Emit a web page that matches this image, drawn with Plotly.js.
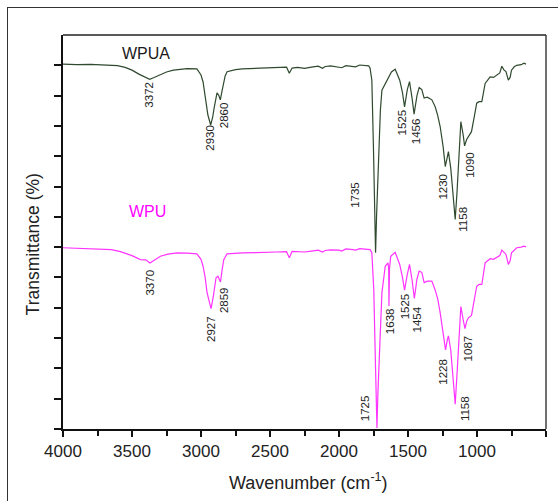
<!DOCTYPE html>
<html>
<head>
<meta charset="utf-8">
<script src="https://cdn.plot.ly/plotly-3.0.1.min.js"></script>
<style>
  html, body { margin: 0; padding: 0; background: #fff; }
  #wrap { position: relative; width: 558px; height: 501px; overflow: hidden; }
  #chart { width: 558px; height: 501px; }
  #frame { position: absolute; left: 7px; top: 7px; width: 600px; height: 600px;
           border-left: 1.3px solid #333; border-top: 1.3px solid #333; pointer-events: none; }
</style>
</head>
<body>
<div id="wrap"><div id="chart"></div><div id="frame"></div></div>
<script>
// Wavenumbers (cm-1) and offset transmittance (arbitrary units, one tick = 1)
const wpuaX = [4000, 3900, 3800, 3700, 3605, 3550, 3500, 3450, 3410, 3372, 3340, 3300, 3250, 3200, 3100, 3030, 3000, 2985, 2970, 2950, 2930, 2915, 2905, 2884, 2872, 2860, 2850, 2840, 2825, 2811, 2750, 2700, 2600, 2500, 2450, 2380, 2360, 2340, 2300, 2250, 2200, 2150, 2120, 2100, 2060, 2000, 1980, 1950, 1900, 1880, 1850, 1800, 1785, 1775, 1762, 1750, 1742, 1735, 1728, 1720, 1710, 1700, 1689, 1653, 1620, 1593, 1560, 1540, 1525, 1505, 1489, 1470, 1456, 1435, 1419, 1400, 1383, 1360, 1327, 1303, 1285, 1267, 1245, 1230, 1215, 1207, 1190, 1175, 1158, 1145, 1130, 1117, 1100, 1090, 1075, 1062, 1040, 1020, 1002, 985, 965, 941, 920, 905, 880, 857, 835, 820, 805, 790, 773, 760, 750, 730, 712, 680, 660, 645];
const wpuaY = [12.04, 12.02, 12.03, 12.0, 11.99, 11.93, 11.84, 11.71, 11.62, 11.54, 11.6, 11.68, 11.78, 11.84, 11.89, 11.88, 11.68, 11.45, 11.02, 10.36, 10.03, 10.3, 10.59, 11.09, 11.02, 10.86, 11.1, 11.35, 11.65, 11.79, 11.86, 11.88, 11.9, 11.91, 11.93, 11.94, 11.74, 11.91, 11.93, 11.9, 11.94, 11.97, 11.9, 11.96, 11.98, 11.95, 11.92, 11.99, 11.97, 11.95, 12.01, 12.0, 11.98, 11.91, 11.51, 9.21, 7.5, 5.82, 7.0, 8.22, 9.8, 10.53, 11.18, 11.51, 11.78, 11.87, 11.51, 11.1, 10.63, 11.2, 11.46, 10.9, 10.39, 11.0, 11.27, 11.2, 10.92, 10.95, 10.86, 10.63, 10.35, 9.98, 9.3, 8.66, 9.0, 9.15, 8.6, 7.8, 6.91, 7.8, 9.3, 10.14, 9.7, 9.34, 9.55, 9.65, 9.81, 10.3, 10.75, 10.8, 10.8, 11.4, 11.55, 11.62, 11.6, 11.68, 11.75, 11.97, 11.85, 11.79, 11.51, 11.6, 11.84, 11.95, 12.0, 12.02, 12.07, 12.04];

const wpuX = [4000, 3900, 3800, 3700, 3650, 3584, 3540, 3500, 3439, 3400, 3370, 3330, 3294, 3240, 3173, 3100, 3030, 3000, 2985, 2970, 2956, 2940, 2927, 2910, 2891, 2877, 2859, 2847, 2835, 2811, 2750, 2700, 2600, 2500, 2450, 2380, 2360, 2340, 2300, 2250, 2200, 2150, 2120, 2100, 2060, 2000, 1980, 1950, 1900, 1880, 1850, 1800, 1785, 1775, 1762, 1748, 1735, 1725, 1718, 1710, 1700, 1689, 1665, 1645, 1640, 1638, 1634, 1625, 1593, 1560, 1540, 1525, 1505, 1489, 1470, 1454, 1435, 1419, 1400, 1383, 1360, 1327, 1303, 1285, 1267, 1245, 1228, 1215, 1207, 1190, 1175, 1158, 1145, 1130, 1117, 1100, 1087, 1075, 1062, 1040, 1020, 1002, 985, 965, 941, 920, 905, 880, 857, 835, 820, 805, 790, 773, 760, 750, 730, 712, 680, 660, 645];
const wpuY = [5.98, 5.96, 5.94, 5.93, 5.92, 5.85, 5.79, 5.72, 5.59, 5.58, 5.48, 5.6, 5.7, 5.77, 5.81, 5.8, 5.78, 5.6, 5.37, 5.0, 4.5, 4.2, 3.97, 4.4, 4.99, 5.04, 4.85, 5.25, 5.59, 5.78, 5.8, 5.81, 5.82, 5.82, 5.84, 5.85, 5.65, 5.86, 5.85, 5.84, 5.87, 5.9, 5.84, 5.89, 5.91, 5.9, 5.87, 5.94, 5.92, 5.9, 5.95, 5.94, 5.94, 5.92, 5.82, 4.6, 1.97, 0.03, 1.2, 2.3, 3.6, 4.5, 5.37, 5.48, 5.3, 4.06, 5.3, 5.7, 5.83, 5.43, 5.0, 4.58, 5.1, 5.43, 4.9, 4.31, 4.95, 5.21, 5.17, 4.83, 4.88, 4.88, 4.58, 4.3, 3.84, 3.1, 2.61, 2.95, 3.07, 2.6, 1.8, 0.82, 1.8, 3.2, 4.04, 3.6, 3.31, 3.55, 3.67, 3.75, 4.25, 4.71, 4.77, 4.77, 5.48, 5.56, 5.62, 5.6, 5.65, 5.72, 5.9, 5.82, 5.76, 5.43, 5.55, 5.81, 5.92, 5.98, 6.0, 6.03, 6.01];

// Peak labels
const wpuaPeakLabels = ["3372", "2930", "2860", "1735", "1525", "1456", "1230", "1158", "1090"];
const wpuaPeakX = [3375, 2933, 2837, 1883, 1545, 1436, 1244, 1108, 1050];
const wpuaPeakY = [11.04, 9.62, 10.37, 7.73, 10.11, 9.82, 8.01, 6.91, 8.72];

const wpuPeakLabels = ["3370", "2927", "2859", "1725", "1638", "1525", "1454", "1228", "1158", "1087"];
const wpuPeakX = [3368, 2928, 2837, 1811, 1625, 1521, 1436, 1244, 1087, 1063];
const wpuPeakY = [4.84, 3.30, 4.27, 0.69, 3.55, 4.05, 3.61, 1.90, 0.69, 2.67];

const seriesNames = ["WPUA", "WPU"];
const xTicks = [4000, 3500, 3000, 2500, 2000, 1500, 1000, 500];
const yTicks = [0, 1, 2, 3, 4, 5, 6, 7, 8, 9, 10, 11, 12];

const FONT = "Arial, 'Liberation Sans', sans-serif";

const traces = [
  { x: wpuaX, y: wpuaY, mode: "lines", name: seriesNames[0],
    line: { color: "#2f4a2f", width: 1.2 } },
  { x: wpuX, y: wpuY, mode: "lines", name: seriesNames[1],
    line: { color: "#ff33ff", width: 1.2 } }
];

const annotations = [];
function addPeaks(labels, xs, ys) {
  for (let i = 0; i < labels.length; i++) {
    annotations.push({ x: xs[i], y: ys[i], xref: "x", yref: "y", text: labels[i],
      showarrow: false, textangle: -90, xanchor: "center", yanchor: "middle",
      font: { family: FONT, size: 11.5, color: "#222" } });
  }
}
addPeaks(wpuaPeakLabels, wpuaPeakX, wpuaPeakY);
addPeaks(wpuPeakLabels, wpuPeakX, wpuPeakY);

annotations.push({ x: 3398, y: 12.38, xref: "x", yref: "y", text: seriesNames[0], showarrow: false,
  font: { family: FONT, size: 16, color: "#1a1a1a" } });
annotations.push({ x: 3386, y: 7.18, xref: "x", yref: "y", text: seriesNames[1], showarrow: false,
  font: { family: FONT, size: 16, color: "#ff00ff" } });

// Axis titles
annotations.push({ x: 0.5076, y: -0.132, xref: "paper", yref: "paper", text: "Wavenumber (cm<sup>-1</sup>)",
  showarrow: false, xanchor: "center", yanchor: "middle",
  font: { family: FONT, size: 18, color: "#222" } });
annotations.push({ x: -0.062, y: 0.4687, xref: "paper", yref: "paper", text: "Transmittance (%)",
  showarrow: false, textangle: -90, xanchor: "center", yanchor: "middle",
  font: { family: FONT, size: 17.5, color: "#222" } });

const layout = {
  width: 558, height: 501,
  margin: { l: 62.7, r: 12, t: 35, b: 71.7, pad: 0 },
  paper_bgcolor: "#fff", plot_bgcolor: "#fff",
  showlegend: false,
  font: { family: FONT, color: "#222" },
  xaxis: {
    range: [4000, 500], tickvals: xTicks, ticktext: xTicks.map(String),
    ticks: "outside", ticklen: 6, tickwidth: 2, tickcolor: "#111",
    minor: { dtick: 250, tick0: 0, ticks: "outside", ticklen: 5, tickwidth: 2, tickcolor: "#111" },
    showline: true, linewidth: 2, linecolor: "#111",
    showgrid: false, zeroline: false,
    tickfont: { family: FONT, size: 17, color: "#222" }
  },
  yaxis: {
    range: [0, 13], tickvals: yTicks, showticklabels: false,
    ticks: "outside", ticklen: 7, tickwidth: 2, tickcolor: "#111",
    showline: true, linewidth: 2, linecolor: "#111",
    showgrid: false, zeroline: false
  },
  shapes: [
    { type: "line", xref: "paper", yref: "paper", x0: 0, x1: 1, y0: 1, y1: 1, line: { color: "#222", width: 1.3 } },
    { type: "line", xref: "paper", yref: "paper", x0: 1, x1: 1, y0: 0, y1: 1, line: { color: "#222", width: 1.3 } }
  ],
  annotations: annotations
};

Plotly.newPlot("chart", traces, layout, { displayModeBar: false, staticPlot: true });
</script>
</body>
</html>
